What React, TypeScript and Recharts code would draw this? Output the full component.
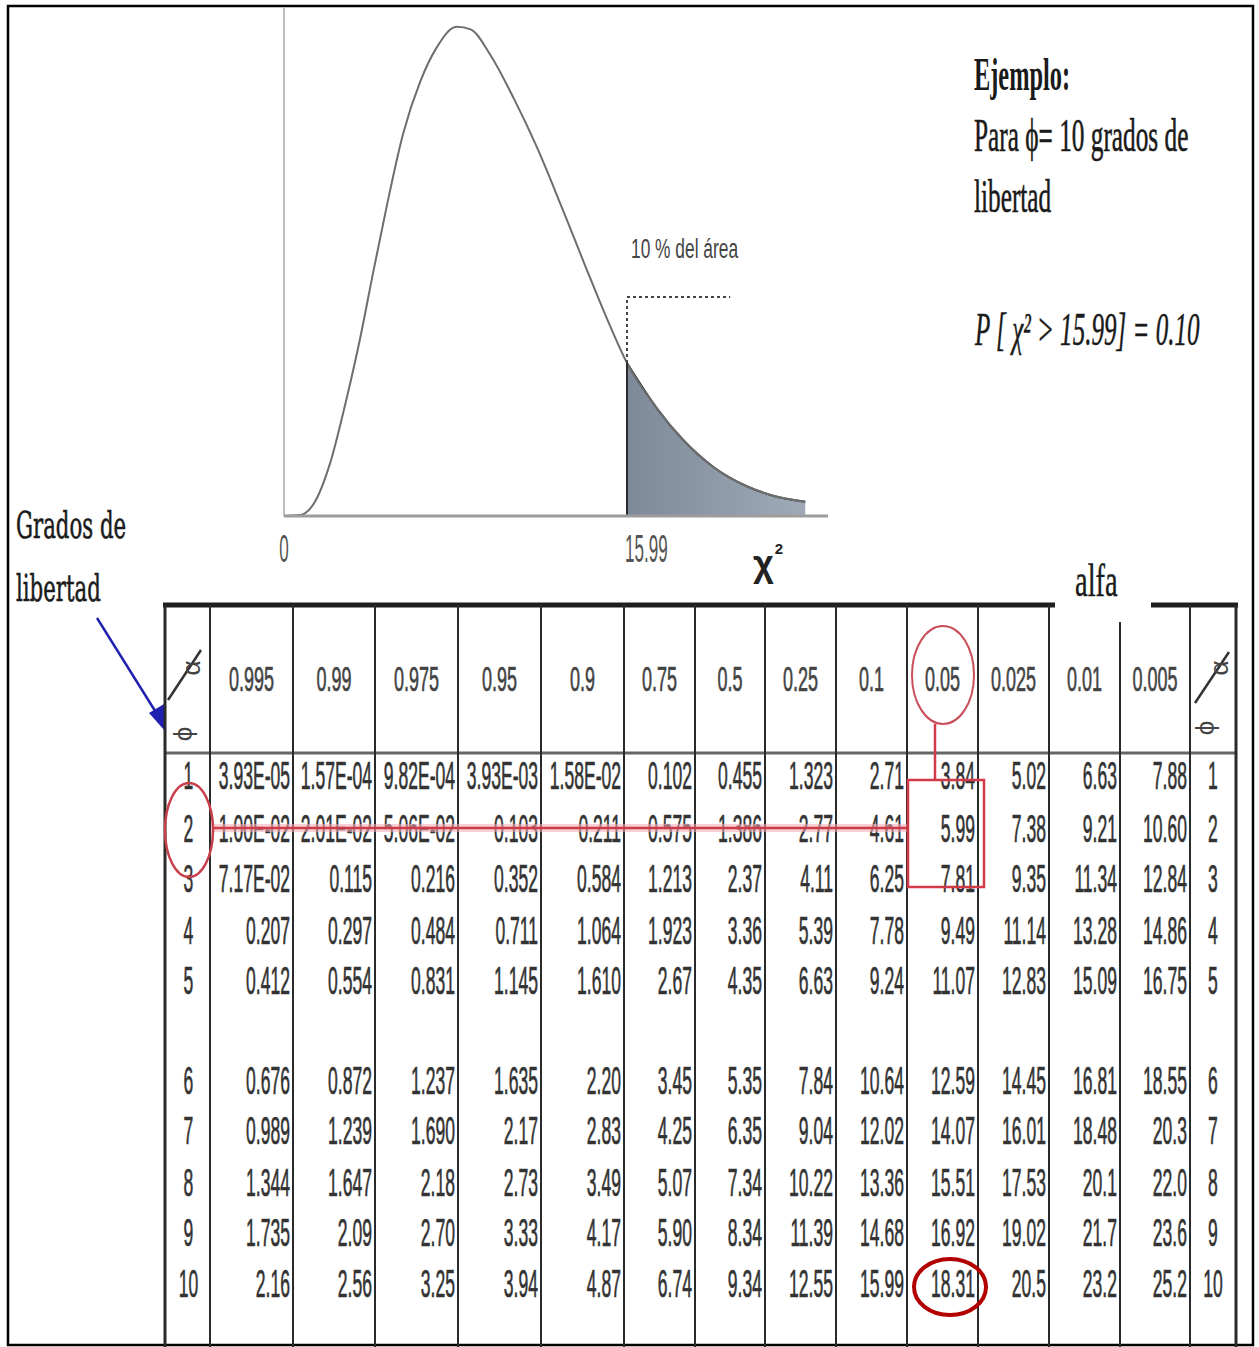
import React from 'react';
import { ComposedChart, Line, Area, XAxis, YAxis, ReferenceLine } from 'recharts';

// ---- Chi-square density curve (10 degrees of freedom) ----
const curveX = [0, 0.75, 1.4, 2.15, 2.9, 3.55, 4.15, 4.8, 5.55, 6.35, 7.1, 8.05, 8.7, 9.6, 10.7, 11.8, 12.9, 14.0, 15.0, 15.99, 17.4, 18.6, 20.0, 21.6, 22.8, 24.3];
const curveY = [0, 0.0002, 0.0025, 0.0104, 0.0228, 0.035, 0.0478, 0.0612, 0.0752, 0.0855, 0.0921, 0.0963, 0.0958, 0.0909, 0.0823, 0.0725, 0.0613, 0.0497, 0.0394, 0.0301, 0.0211, 0.015, 0.0097, 0.0058, 0.004, 0.0028];
const criticalValue = 15.99;
const criticalDensity = 0.0301;
const dashedTop = 0.0431;
const dashedEnd = 20.8;
const xTicks = [0, 15.99];

// ---- Table ----
const alphaLabels = ['0.995', '0.99', '0.975', '0.95', '0.9', '0.75', '0.5', '0.25', '0.1', '0.05', '0.025', '0.01', '0.005'];
const dfLabels = ['1', '2', '3', '4', '5', '6', '7', '8', '9', '10'];
const row1 = ['3.93E-05', '1.57E-04', '9.82E-04', '3.93E-03', '1.58E-02', '0.102', '0.455', '1.323', '2.71', '3.84', '5.02', '6.63', '7.88'];
const row2 = ['1.00E-02', '2.01E-02', '5.06E-02', '0.103', '0.211', '0.575', '1.386', '2.77', '4.61', '5.99', '7.38', '9.21', '10.60'];
const row3 = ['7.17E-02', '0.115', '0.216', '0.352', '0.584', '1.213', '2.37', '4.11', '6.25', '7.81', '9.35', '11.34', '12.84'];
const row4 = ['0.207', '0.297', '0.484', '0.711', '1.064', '1.923', '3.36', '5.39', '7.78', '9.49', '11.14', '13.28', '14.86'];
const row5 = ['0.412', '0.554', '0.831', '1.145', '1.610', '2.67', '4.35', '6.63', '9.24', '11.07', '12.83', '15.09', '16.75'];
const row6 = ['0.676', '0.872', '1.237', '1.635', '2.20', '3.45', '5.35', '7.84', '10.64', '12.59', '14.45', '16.81', '18.55'];
const row7 = ['0.989', '1.239', '1.690', '2.17', '2.83', '4.25', '6.35', '9.04', '12.02', '14.07', '16.01', '18.48', '20.3'];
const row8 = ['1.344', '1.647', '2.18', '2.73', '3.49', '5.07', '7.34', '10.22', '13.36', '15.51', '17.53', '20.1', '22.0'];
const row9 = ['1.735', '2.09', '2.70', '3.33', '4.17', '5.90', '8.34', '11.39', '14.68', '16.92', '19.02', '21.7', '23.6'];
const row10 = ['2.16', '2.56', '3.25', '3.94', '4.87', '6.74', '9.34', '12.55', '15.99', '18.31', '20.5', '23.2', '25.2'];
const tableRows = [row1, row2, row3, row4, row5, row6, row7, row8, row9, row10];

const data = curveX.map((x, i) => ({
  x,
  y: curveY[i],
  tail: x >= criticalValue - 1e-9 ? curveY[i] : null,
}));

const SANS = "'Liberation Sans', Arial, sans-serif";
const SERIF = "'Liberation Serif', 'Times New Roman', serif";

const renderTick = (props: any) => {
  const { x, y, payload } = props;
  const v = payload.value;
  const isZero = v === 0;
  return (
    <text
      transform={`translate(${isZero ? x : x - 2},${y + 46}) scale(0.45,1)`}
      textAnchor={isZero ? 'middle' : 'start'}
      fontFamily={SANS}
      fontSize={38}
      fill="#555"
    >
      {String(v)}
    </text>
  );
};

// layout of the table
const colEdges = [165, 210, 293, 375, 458, 541, 624, 695, 765, 836, 907, 978, 1049, 1120, 1190, 1236];
const rowCenters = [775, 828, 878, 930, 980, 1080, 1130, 1182, 1232, 1283];

const Cell = ({ s, x, y, anchor, size = 39, sx = 0.45, fill = '#333' }: { s: string; x: number; y: number; anchor: 'start' | 'middle' | 'end'; size?: number; sx?: number; fill?: string }) => (
  <text
    transform={`translate(${x},${y}) scale(${sx},1)`}
    textAnchor={anchor}
    fontFamily={SANS}
    fontSize={size}
    fill={fill}
    stroke={fill}
    strokeWidth={0.7}
  >
    {s}
  </text>
);

const Scaled = ({ x, y, sx, children, ...rest }: any) => (
  <text transform={`translate(${x},${y}) scale(${sx},1)`} {...rest}>
    {children}
  </text>
);

export default function App() {
  return (
    <div style={{ position: 'absolute', left: 0, top: 0, width: 1259, height: 1347, background: '#fff' }}>
      <div style={{ position: 'absolute', left: 0, top: 0 }}>
        <ComposedChart
          width={1259}
          height={580}
          data={data}
          margin={{ top: 8, right: 431, bottom: 4, left: 284 }}
        >
          <defs>
            <linearGradient id="tailFill" x1="0" y1="0" x2="1" y2="0">
              <stop offset="0%" stopColor="#7e8999" />
              <stop offset="100%" stopColor="#9eabb7" />
            </linearGradient>
          </defs>
          <XAxis
            dataKey="x"
            type="number"
            domain={[0, 25.36]}
            ticks={xTicks}
            interval={0}
            allowDataOverflow
            height={60}
            tickSize={0}
            tickMargin={0}
            tickLine={false}
            axisLine={{ stroke: '#9c9c9c', strokeWidth: 3 }}
            tick={renderTick}
          />
          <YAxis type="number" domain={[0, 0.1]} hide allowDataOverflow />
          <ReferenceLine x={0} stroke="#a8a8a8" strokeWidth={1.5} />
          <Line
            dataKey="y"
            type="monotone"
            stroke="#6e6e6e"
            strokeWidth={2}
            dot={false}
            isAnimationActive={false}
          />
          <Area
            dataKey="tail"
            type="monotone"
            fill="url(#tailFill)"
            fillOpacity={1}
            stroke="#2f3540"
            strokeWidth={2}
            baseValue={0}
            connectNulls={false}
            isAnimationActive={false}
          />
          <ReferenceLine
            segment={[{ x: criticalValue, y: 0 }, { x: criticalValue, y: criticalDensity }]}
            stroke="#2a2a2a"
            strokeWidth={2}
          />
          <ReferenceLine
            segment={[{ x: criticalValue, y: criticalDensity }, { x: criticalValue, y: dashedTop }]}
            stroke="#444"
            strokeWidth={2}
            strokeDasharray="3 3"
          />
          <ReferenceLine
            segment={[{ x: criticalValue, y: dashedTop }, { x: dashedEnd, y: dashedTop }]}
            stroke="#444"
            strokeWidth={2}
            strokeDasharray="3 3"
          />
        </ComposedChart>
      </div>
      <svg
        width={1259}
        height={1347}
        style={{ position: 'absolute', left: 0, top: 0, pointerEvents: 'none' }}
      >
        {/* outer frame */}
        <rect x={8} y={6} width={1245} height={1339} fill="none" stroke="#000" strokeWidth={2.5} />

        {/* chart annotations */}
        <Scaled x={631} y={258} sx={0.62} fontFamily={SANS} fontSize={28} fill="#444">
          10 % del área
        </Scaled>
        <text x={753} y={576} fontFamily={SANS} fontSize={36} fontWeight="bold" fill="#222">
          χ<tspan dx={1} dy={-22} fontSize={15}>2</tspan>
        </text>

        {/* Example block */}
        <Scaled x={974} y={90} sx={0.53} fontFamily={SERIF} fontSize={46} fontWeight="bold" fill="#1a1a1a">
          Ejemplo:
        </Scaled>
        <Scaled x={974} y={151} sx={0.55} fontFamily={SERIF} fontSize={46} fill="#1a1a1a" stroke="#1a1a1a" strokeWidth={0.6}>
          Para ϕ= 10 grados de
        </Scaled>
        <Scaled x={974} y={212} sx={0.55} fontFamily={SERIF} fontSize={46} fill="#1a1a1a" stroke="#1a1a1a" strokeWidth={0.6}>
          libertad
        </Scaled>
        <Scaled x={975} y={345} sx={0.545} fontFamily={SERIF} fontSize={46} fontStyle="italic" fill="#1a1a1a" stroke="#1a1a1a" strokeWidth={0.5}>
          P [ χ² &gt; 15.99] = 0.10
        </Scaled>

        {/* Grados de libertad */}
        <Scaled x={16} y={538} sx={0.56} fontFamily="'DejaVu Serif', serif" fontSize={38} fill="#1a1a1a" stroke="#1a1a1a" strokeWidth={0.6}>
          Grados de
        </Scaled>
        <Scaled x={16} y={601} sx={0.56} fontFamily="'DejaVu Serif', serif" fontSize={38} fill="#1a1a1a" stroke="#1a1a1a" strokeWidth={0.6}>
          libertad
        </Scaled>
        {/* blue arrow */}
        <line x1={97} y1={618} x2={157} y2={714} stroke="#2020b0" strokeWidth={2.5} />
        <polygon points="165,731 149,713 164,704" fill="#2020b0" />

        {/* alfa */}
        <Scaled x={1075} y={596} sx={0.62} fontFamily={SERIF} fontSize={46} fill="#1a1a1a" stroke="#1a1a1a" strokeWidth={0.4}>
          alfa
        </Scaled>

        {/* table lines */}
        <line x1={163} y1={605} x2={1055} y2={605} stroke="#1e1e1e" strokeWidth={5} />
        <line x1={1151} y1={605} x2={1238} y2={605} stroke="#1e1e1e" strokeWidth={5} />
        <line x1={165} y1={753} x2={1236} y2={753} stroke="#666" strokeWidth={3} />
        {colEdges.map((cx, i) => (
          <line
            key={`v${i}`}
            x1={cx}
            y1={cx === 1120 ? 622 : 605}
            x2={cx}
            y2={1347}
            stroke="#2a2a2a"
            strokeWidth={i === 0 || i === colEdges.length - 1 ? 3 : 2}
          />
        ))}

        {/* header corner cells */}
        <line x1={168} y1={700} x2={201} y2={650} stroke="#333" strokeWidth={2.5} />
        <text transform="translate(200,668) rotate(-90)" textAnchor="middle" fontFamily={SANS} fontSize={26} fill="#444">α</text>
        <text transform="translate(192,734) rotate(-90)" textAnchor="middle" fontFamily={SANS} fontSize={26} fill="#444">ϕ</text>
        <line x1={1195} y1={703} x2={1229} y2={652} stroke="#333" strokeWidth={2.5} />
        <text transform="translate(1228,668) rotate(-90)" textAnchor="middle" fontFamily={SANS} fontSize={26} fill="#444">α</text>
        <text transform="translate(1214,728) rotate(-90)" textAnchor="middle" fontFamily={SANS} fontSize={26} fill="#444">ϕ</text>

        {/* header labels */}
        {alphaLabels.map((a, i) => (
          <Cell key={`h${i}`} s={a} x={(colEdges[i + 1] + colEdges[i + 2]) / 2} y={691} anchor="middle" size={36} sx={0.5} fill="#444" />
        ))}

        {/* body */}
        {tableRows.map((row, r) => (
          <g key={`r${r}`}>
            <Cell s={dfLabels[r]} x={(colEdges[0] + colEdges[1]) / 2 + 1} y={rowCenters[r] + 14} anchor="middle" />
            {row.map((v, c) => (
              <Cell key={`c${c}`} s={v} x={colEdges[c + 2] - 3} y={rowCenters[r] + 14} anchor="end" />
            ))}
            <Cell s={dfLabels[r]} x={(colEdges[14] + colEdges[15]) / 2} y={rowCenters[r] + 14} anchor="middle" />
          </g>
        ))}

        {/* red highlights */}
        <line x1={213} y1={828} x2={908} y2={828} stroke="#f2aab2" strokeWidth={8} strokeOpacity={0.55} />
        <line x1={213} y1={828} x2={908} y2={828} stroke="#cf3a48" strokeWidth={2.5} />
        <ellipse cx={189} cy={830} rx={24} ry={47} fill="none" stroke="#c8404c" strokeWidth={2.5} />
        <ellipse cx={943} cy={675} rx={31} ry={49} fill="none" stroke="#c9505a" strokeWidth={2} />
        <line x1={935} y1={724} x2={935} y2={780} stroke="#d23a48" strokeWidth={2.5} />
        <rect x={908} y={780} width={76} height={107} fill="none" stroke="#d23a48" strokeWidth={2.5} />
        <ellipse cx={950} cy={1287} rx={36} ry={28} fill="none" stroke="#b30000" strokeWidth={4} />
      </svg>
    </div>
  );
}
